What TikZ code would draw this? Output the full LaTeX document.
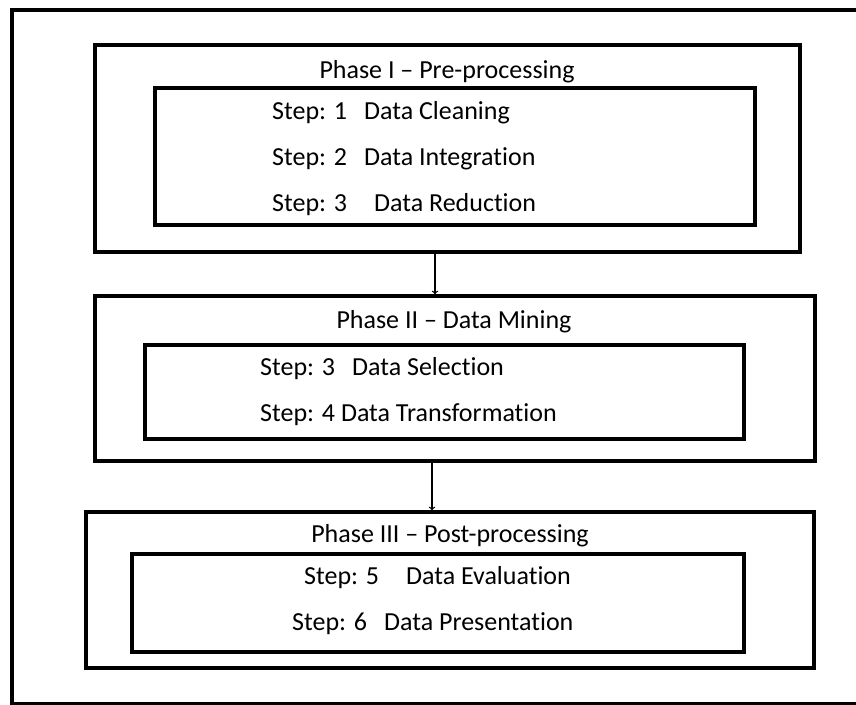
\documentclass[tikz,border=0pt]{standalone}
\usepackage{fontspec}
\setmainfont{Carlito}[Ligatures={TeX,NoCommon}]

\begin{document}
\begin{tikzpicture}[x=1pt, y=-1pt,
  phase/.style={draw, line width=3.5pt, inner sep=0},
  stepbox/.style={draw, line width=3.2pt, inner sep=0},
  txt/.style={font=\fontsize{26}{30}\selectfont, inner sep=0},
  arr/.style={->, line width=1.3pt, >=to}]
\useasboundingbox (0,0) rectangle (856,704);
\draw[line width=4pt] (12,10) rectangle (880,704);
% Phase I
\node[phase, minimum width=705pt, minimum height=207pt] (p1) at (447.5,148.5) {};
\node[stepbox, minimum width=600pt, minimum height=137pt] (b1) at (455,156.5) {};
\node[txt] (t1) at (447,72) {Phase I -- Pre-processing};
\node[txt, anchor=west] (s1) at (272,113) {Step: 1\hspace{17pt}Data Cleaning};
\node[txt, anchor=west] (s2) at (272,159) {Step: 2\hspace{17pt}Data Integration};
\node[txt, anchor=west] (s3) at (272,205) {Step: 3\hspace{27pt}Data Reduction};
% Phase II
\node[phase, minimum width=720pt, minimum height=165pt] (p2) at (455,378.5) {};
\node[stepbox, minimum width=599pt, minimum height=94pt] (b2) at (444.5,392) {};
\node[txt] (t2) at (454,322) {Phase II -- Data Mining};
\node[txt, anchor=west] (s4) at (260,369) {Step: 3\hspace{17pt}Data Selection};
\node[txt, anchor=west] (s5) at (260,415) {Step: 4 Data Transformation};
% Phase III
\node[phase, minimum width=728pt, minimum height=156pt] (p3) at (450,590) {};
\node[stepbox, minimum width=612pt, minimum height=98pt] (b3) at (438,603) {};
\node[txt] (t3) at (450,536) {Phase III -- Post-processing};
\node[txt, anchor=west] (s6) at (304,578) {Step: 5\hspace{27pt}Data Evaluation};
\node[txt, anchor=west] (s7) at (292,624) {Step: 6\hspace{17pt}Data Presentation};
% Arrows
\draw [arr] ([xshift=-12.5pt]p1.south) -- ([xshift=-12.5pt]p1.south |- p2.north);
\draw [arr] ([xshift=-23pt]p2.south) -- ([xshift=-23pt]p2.south |- p3.north);
\end{tikzpicture}
\end{document}
